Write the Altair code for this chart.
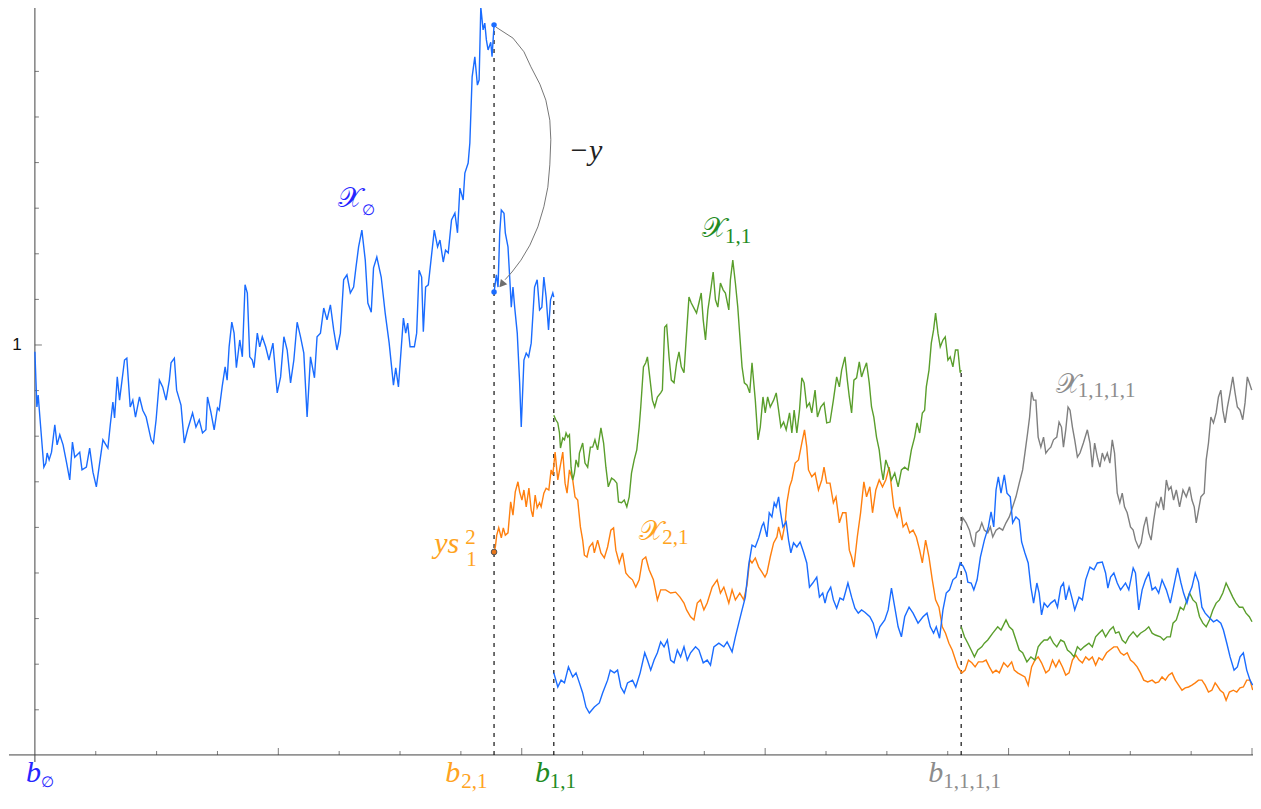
import altair as alt
import pandas as pd

# ---------------- data (time index t, value y) ----------------
BLUE_PATH_1 = [(0,0.985),(2,0.864),(3.3,0.890),(5,0.842),(9,0.732),(11,0.741),(12.3,0.763),(14.3,0.748),(16.7,0.765),(20,0.825),(22.3,0.781),(25,0.803),(28.3,0.781),(31.7,0.743),(35,0.704),(37.7,0.787),(40,0.754),(45,0.765),(47.3,0.726),(51.7,0.732),(55,0.774),(58.3,0.721),(61.7,0.689),(65,0.741),(68.3,0.792),(73.3,0.774),(75.7,0.825),(78.3,0.875),(80,0.840),(82.7,0.930),(85,0.879),(90,0.967),(92.3,0.971),(95.7,0.864),(98.3,0.879),(101,0.842),(105,0.886),(108.3,0.857),(111.7,0.842),(116.7,0.792),(119,0.785),(121.7,0.836),(125,0.923),(128.3,0.908),(131.7,0.879),(135,0.923),(136.7,0.961),(140,0.971),(142.3,0.901),(146.7,0.868),(150,0.785),(153.3,0.814),(158.3,0.851),(161.7,0.820),(165,0.836),(168.3,0.807),(171.7,0.814),(173.3,0.886),(176.7,0.853),(180,0.814),(183.3,0.862),(185,0.857),(188,0.908),(191,0.952),(193,0.923),(195,0.996),(197.7,1.050),(200,1.026),(202.3,0.950),(205.7,1.011),(208.3,0.974),(211,1.132),(213.3,1.114),(215.7,0.974),(218.3,0.967),(220,0.950),(223.3,1.026),(225.7,0.996),(228.3,1.018),(231.7,0.996),(235,0.967),(239,1.004),(243.3,0.895),(246.7,0.930),(250,1.018),(253.3,0.989),(256.7,0.917),(260,0.967),(263.3,1.050),(266.7,1.018),(270,0.982),(273.3,0.842),(276.7,0.974),(280.7,0.928),(283.3,1.018),(286.7,1.026),(290,1.081),(293.3,1.055),(296.7,1.088),(300,1.033),(303.3,0.989),(306.7,1.026),(310,1.143),(313.3,1.154),(316.7,1.114),(320,1.127),(322.3,1.169),(325,1.215),(328.3,1.252),(331.7,1.186),(334.3,1.092),(337.7,1.072),(340,1.169),(343.3,1.193),(347.7,1.149),(351.7,1.070),(355.7,1.004),(360,0.912),(362.3,0.950),(365,0.908),(370,1.059),(372.3,1.026),(374.3,1.048),(376.7,0.996),(381,0.996),(383.3,1.026),(385.7,1.164),(388.3,1.149),(390,1.029),(392.3,1.127),(395,1.132),(397.7,1.186),(401,1.252),(404.3,1.215),(406.7,1.230),(410,1.182),(412.3,1.208),(415,1.202),(418.3,1.274),(421.7,1.289),(424.3,1.246),(426.7,1.344),(430,1.318),(431.7,1.377),(435,1.399),(436.7,1.443),(439,1.588),(441.7,1.632),(444.3,1.570),(446,1.581),(447.7,1.741),(450,1.691),(451.7,1.706),(453.3,1.669),(455,1.647),(457.7,1.664),(459,1.632),(461,1.702)]

BLUE_PATH_2 = [(461,1.116),(461.7,1.127),(463.3,1.154),(465,1.127),(466.7,1.246),(468.3,1.296),(471,1.289),(472.3,1.246),(475,1.215),(476.7,1.149),(478.3,1.083),(480,1.127),(481.7,1.083),(484.3,1.026),(486.7,0.917),(488.3,0.820),(491,0.967),(493.3,0.982),(495.7,0.974),(498.3,1.004),(501.7,1.127),(504.3,1.143),(506.7,1.077),(509,1.083),(511,1.149),(513.3,1.105),(515.7,1.033),(517.7,1.099),(520,1.114),(521,1.105)]

BLUE_PATH_3 = [(521,0.281),(525,0.250),(528.3,0.265),(531.7,0.259),(535.7,0.294),(540,0.272),(543.3,0.281),(546.7,0.259),(550,0.237),(553.3,0.206),(556.7,0.193),(561.7,0.206),(566.7,0.215),(570,0.237),(575,0.265),(577.7,0.287),(581.7,0.281),(585,0.287),(588.3,0.250),(591.7,0.237),(595,0.259),(600,0.265),(603.3,0.250),(607.7,0.281),(612.3,0.325),(615,0.309),(618.3,0.287),(621.7,0.309),(625,0.325),(628.3,0.349),(631.7,0.338),(635,0.353),(638.3,0.309),(641.7,0.303),(645,0.331),(648.3,0.316),(651.7,0.338),(655,0.309),(658.3,0.325),(663.3,0.338),(666.7,0.331),(671,0.303),(675,0.309),(678.3,0.298),(681.7,0.338),(686.7,0.346),(691.7,0.338),(695,0.349),(700,0.327),(703.3,0.360),(706.7,0.390),(710,0.419),(713.3,0.447),(716.7,0.518),(720,0.561),(723.3,0.557),(726.7,0.577),(730,0.603),(731.7,0.610),(735,0.579),(737.3,0.632),(740,0.623),(742.3,0.654),(744.3,0.645),(746.7,0.667),(748.3,0.638),(751,0.601),(754.3,0.612),(756.7,0.572),(759,0.544),(761.7,0.566),(765,0.557),(768.3,0.568),(771.7,0.546),(775,0.522),(777.7,0.469),(781,0.478),(785,0.491),(787.7,0.447),(791,0.456),(793.3,0.434),(795.7,0.456),(799,0.469),(801.7,0.441),(805,0.423),(808.3,0.445),(811.7,0.441),(816.3,0.478),(820,0.447),(823.3,0.423),(826.7,0.412),(830,0.419),(833.3,0.414),(838.3,0.404),(841.7,0.390),(845,0.360),(848.3,0.382),(853.3,0.397),(856.7,0.419),(860,0.467),(863.3,0.425),(866.7,0.382),(870,0.360),(873.3,0.404),(877.7,0.425),(881.7,0.412),(886.7,0.390),(891.7,0.404),(895.7,0.412),(899,0.382),(902.3,0.368),(905,0.382),(908.3,0.357),(911.7,0.419),(915,0.456),(918.3,0.463),(921.7,0.485),(925,0.491),(929,0.522),(932,0.515),(935,0.500),(936.7,0.480),(940,0.478),(942.7,0.463),(946,0.485),(949.3,0.535),(953.3,0.572),(957.3,0.601),(960,0.634),(962.7,0.601),(965,0.682),(967.3,0.711),(970,0.675),(973.3,0.715),(976,0.675),(979.3,0.667),(981.7,0.610),(985,0.623),(988.3,0.616),(990.7,0.568),(994,0.544),(997.3,0.522),(1000,0.469),(1002.7,0.434),(1006,0.478),(1008.3,0.456),(1010.7,0.408),(1013.3,0.434),(1016.7,0.425),(1020,0.434),(1024,0.441),(1026.7,0.425),(1030,0.469),(1032.7,0.478),(1035,0.441),(1038.3,0.469),(1041.7,0.441),(1044,0.419),(1048.3,0.447),(1051.7,0.441),(1055,0.485),(1059.3,0.513),(1063.3,0.507),(1066.7,0.522),(1071.7,0.524),(1075,0.500),(1077.3,0.467),(1080,0.491),(1083.3,0.500),(1086.7,0.478),(1090,0.463),(1095,0.478),(1098.3,0.463),(1102.7,0.511),(1105,0.500),(1108.3,0.419),(1111.7,0.463),(1115,0.485),(1118.3,0.500),(1121.7,0.463),(1125,0.469),(1128.3,0.456),(1131.7,0.485),(1136,0.463),(1140,0.434),(1143.3,0.469),(1147.3,0.511),(1150.7,0.478),(1153.3,0.456),(1156.7,0.434),(1159.3,0.456),(1161.7,0.469),(1165,0.500),(1168.3,0.480),(1171.7,0.425),(1175,0.412),(1178.3,0.404),(1183.3,0.393),(1186.7,0.397),(1190.7,0.390),(1193.3,0.375),(1196.7,0.346),(1200,0.316),(1204,0.287),(1207.3,0.294),(1210,0.316),(1213.3,0.325),(1216.7,0.287),(1220,0.265),(1222.7,0.254)]

ORANGE_PATH = [(461,0.546),(462.3,0.557),(463.7,0.583),(465.7,0.599),(468.3,0.577),(470.3,0.599),(472.3,0.583),(475,0.588),(477.7,0.656),(480,0.627),(482.3,0.678),(485,0.700),(486.7,0.678),(489,0.660),(491,0.682),(493.3,0.645),(496,0.686),(498.3,0.638),(500,0.623),(502.3,0.671),(504.3,0.643),(506.7,0.654),(508.3,0.645),(511,0.675),(513.3,0.686),(516,0.682),(518.3,0.726),(520,0.715),(522.3,0.765),(525,0.704),(527.7,0.737),(530,0.765),(532.3,0.697),(534.3,0.675),(536.7,0.726),(540,0.704),(542.3,0.667),(545,0.660),(547.7,0.601),(550,0.572),(551.7,0.539),(554.3,0.535),(556.7,0.557),(560,0.566),(561.7,0.544),(565,0.572),(568.3,0.544),(571.7,0.533),(575,0.557),(578.3,0.594),(581,0.599),(583.3,0.550),(586.7,0.522),(590,0.544),(593.3,0.500),(596.7,0.491),(600,0.485),(603.3,0.469),(606.7,0.485),(610,0.529),(613.3,0.535),(616.7,0.507),(621,0.485),(625,0.441),(628.3,0.463),(633.3,0.463),(638.3,0.456),(643.3,0.458),(647.7,0.447),(651.7,0.434),(654.3,0.419),(658.3,0.404),(661.7,0.397),(665,0.434),(668.3,0.441),(671.7,0.419),(675,0.434),(680,0.469),(685,0.485),(688.3,0.456),(691.7,0.469),(696.7,0.434),(700,0.463),(703.3,0.441),(707.7,0.456),(711.7,0.441),(715,0.474),(717.7,0.529),(720,0.522),(723.3,0.533),(726.7,0.513),(730,0.502),(733,0.491),(735,0.500),(738.3,0.535),(741.7,0.566),(745,0.579),(746.7,0.601),(750,0.572),(753.3,0.610),(755,0.654),(757.7,0.689),(760,0.704),(763.3,0.741),(766.7,0.748),(770,0.785),(772.7,0.814),(775,0.776),(776.7,0.726),(780,0.711),(783.3,0.719),(786.7,0.682),(790,0.704),(792.3,0.732),(795,0.697),(798.3,0.697),(801.7,0.654),(804.3,0.667),(807.7,0.610),(811,0.632),(814.3,0.632),(817.7,0.550),(820,0.535),(822.3,0.513),(825.7,0.579),(829,0.632),(832.3,0.700),(835,0.667),(838.3,0.689),(841,0.632),(844.3,0.682),(847.7,0.704),(851,0.689),(854.3,0.704),(857.7,0.732),(860,0.689),(862.3,0.645),(865.7,0.623),(868.3,0.645),(871.7,0.601),(875,0.610),(878.3,0.588),(881.7,0.594),(885,0.579),(888.3,0.550),(891,0.522),(894.3,0.572),(897.7,0.535),(901,0.485),(904.3,0.441),(907.7,0.425),(911,0.382),(914.3,0.368),(917.7,0.346),(921,0.331),(924.3,0.309),(926.7,0.294),(930.7,0.281),(934,0.287),(937.3,0.309),(940.7,0.303),(944,0.294),(947.3,0.305),(951.7,0.305),(955,0.309),(958.3,0.294),(961.7,0.281),(965,0.287),(968.3,0.281),(972.7,0.303),(976.7,0.294),(980.7,0.305),(983.3,0.287),(986.7,0.281),(990.7,0.276),(994,0.272),(997.3,0.254),(1000.7,0.294),(1004,0.309),(1007.3,0.316),(1010.7,0.303),(1015,0.281),(1018.3,0.287),(1021.7,0.309),(1025,0.294),(1028.3,0.309),(1031.7,0.294),(1035,0.276),(1038.3,0.281),(1041.7,0.309),(1045,0.320),(1048.3,0.309),(1051.7,0.303),(1055,0.316),(1058.3,0.309),(1061.7,0.316),(1065,0.298),(1068.3,0.314),(1071.7,0.309),(1076,0.325),(1079.3,0.331),(1083.3,0.338),(1086.7,0.338),(1090,0.325),(1093.3,0.320),(1096.7,0.325),(1100,0.309),(1103.3,0.303),(1106.7,0.294),(1110,0.281),(1113.3,0.265),(1117.3,0.261),(1121.7,0.265),(1125,0.259),(1128.3,0.261),(1131.7,0.272),(1135,0.265),(1138.3,0.276),(1141.7,0.281),(1145,0.265),(1148.3,0.254),(1151.7,0.243),(1155,0.248),(1158.3,0.250),(1161.7,0.254),(1165,0.259),(1168.3,0.265),(1171.7,0.265),(1175,0.254),(1178.3,0.239),(1181.7,0.243),(1185,0.259),(1186.7,0.254),(1190,0.243),(1193.3,0.237),(1196,0.221),(1199.3,0.239),(1203.3,0.243),(1206.7,0.239),(1210,0.248),(1213.3,0.250),(1216.7,0.265),(1220,0.265),(1222.7,0.243)]

GREEN_PATH_1 = [(521,0.846),(523,0.836),(525,0.829),(526.7,0.807),(527.7,0.774),(530,0.796),(531.7,0.792),(533.3,0.807),(535,0.798),(536.7,0.803),(538.3,0.732),(540,0.704),(541.7,0.719),(543.3,0.748),(545.7,0.732),(546.7,0.763),(550,0.785),(552.3,0.741),(555,0.732),(557.7,0.776),(560,0.776),(562.3,0.792),(565,0.770),(568.3,0.818),(571,0.785),(573.3,0.732),(575.7,0.689),(579,0.708),(581.7,0.704),(584.3,0.697),(586,0.656),(589,0.654),(591.7,0.660),(594.3,0.645),(596.7,0.667),(599,0.719),(601.7,0.748),(604.3,0.770),(606.7,0.820),(608.3,0.864),(611,0.952),(613.3,0.961),(615,0.974),(617.7,0.923),(620,0.879),(622.3,0.864),(625,0.886),(628.3,0.895),(630,0.901),(632.3,1.039),(634.3,1.044),(636.7,0.974),(639,0.923),(641.7,0.917),(644.3,0.961),(646.7,0.985),(649,0.952),(651.7,0.939),(654.3,1.026),(656.7,1.105),(659,1.092),(661.7,1.081),(664.3,1.070),(666.7,1.092),(669,1.114),(671,1.055),(673.3,1.011),(675.7,1.077),(678.3,1.116),(681,1.160),(683.3,1.099),(685.7,1.083),(688.3,1.136),(691,1.121),(693.3,1.114),(696.7,1.077),(698.3,1.143),(700.7,1.186),(703.3,1.136),(705.7,1.083),(707.7,1.022),(710,0.952),(712.3,0.917),(715,0.912),(717.7,0.895),(720,0.961),(723.3,0.879),(726,0.792),(728.3,0.820),(731,0.886),(733.3,0.851),(735.7,0.886),(738.3,0.864),(741.7,0.879),(744.3,0.895),(746.7,0.857),(749,0.820),(751.7,0.831),(754.3,0.814),(757.7,0.851),(760,0.807),(762.3,0.857),(765,0.807),(767.7,0.857),(770,0.928),(772.3,0.917),(775,0.864),(777.7,0.873),(780,0.851),(783.3,0.901),(785.7,0.842),(789,0.864),(792.3,0.873),(795,0.829),(798.3,0.831),(801.7,0.879),(805,0.930),(807.7,0.908),(810,0.945),(813.3,0.974),(815.7,0.923),(817.7,0.886),(820,0.851),(822.3,0.923),(825,0.928),(827.7,0.963),(830,0.930),(832.3,0.945),(835,0.961),(837.7,0.917),(840,0.864),(842.3,0.842),(845,0.798),(847.7,0.770),(850,0.726),(851.7,0.704),(854.3,0.748),(857.7,0.726),(860,0.704),(863.3,0.719),(866.7,0.689),(870,0.726),(873.3,0.732),(876.7,0.726),(880,0.770),(883.3,0.798),(885.7,0.829),(888.3,0.807),(891,0.851),(893.3,0.857),(895,0.908),(897.7,0.945),(900,1.004),(902.3,1.033),(904.3,1.070),(906.7,1.026),(909,0.996),(911.7,1.011),(914,1.018),(916.7,0.967),(919,0.974),(921.7,0.952),(924.3,0.989),(926.7,0.989),(929,0.939),(930,0.945)]

GREEN_PATH_2 = [(930,0.382),(933.3,0.360),(936.7,0.346),(940,0.331),(943.3,0.316),(946.7,0.331),(950.7,0.338),(953.3,0.346),(956.7,0.353),(961.7,0.368),(966.7,0.382),(970,0.375),(975,0.397),(978.3,0.382),(981.7,0.375),(985,0.353),(988.3,0.331),(991.7,0.325),(996,0.305),(1000,0.316),(1004,0.309),(1007.3,0.338),(1010,0.346),(1013.3,0.353),(1016.7,0.353),(1019.3,0.360),(1022.7,0.346),(1026,0.338),(1030,0.353),(1033.3,0.349),(1036.7,0.331),(1040,0.325),(1043.3,0.316),(1046.7,0.338),(1050,0.331),(1053.3,0.338),(1058.3,0.346),(1061.7,0.338),(1065,0.360),(1068.3,0.368),(1071.7,0.375),(1075,0.360),(1079.3,0.375),(1082.7,0.382),(1085,0.368),(1088.3,0.371),(1091.7,0.353),(1095,0.346),(1098.3,0.360),(1102.7,0.371),(1106.7,0.360),(1110,0.368),(1115,0.375),(1118.3,0.382),(1121.7,0.368),(1125,0.364),(1130,0.360),(1133.3,0.353),(1136.7,0.360),(1140,0.360),(1142.7,0.390),(1146,0.397),(1150,0.425),(1153.3,0.419),(1156.7,0.441),(1159.3,0.456),(1162.7,0.441),(1166,0.434),(1169.3,0.404),(1172.7,0.390),(1176,0.382),(1179.3,0.397),(1182.7,0.419),(1186,0.434),(1189.3,0.441),(1192.7,0.456),(1196,0.478),(1199.3,0.463),(1202.7,0.447),(1206,0.434),(1209.3,0.425),(1212.7,0.425),(1216,0.412),(1219.3,0.404),(1222,0.393)]

GRAY_PATH = [(930,0.601),(931.7,0.621),(935,0.610),(938.3,0.594),(940.7,0.572),(943.3,0.557),(945,0.588),(948.3,0.594),(950.7,0.610),(953.3,0.594),(956.7,0.588),(959.3,0.601),(961.7,0.579),(965,0.594),(968.3,0.599),(971.7,0.594),(975,0.610),(978.3,0.623),(981.7,0.645),(985,0.667),(988.3,0.697),(991.7,0.726),(994,0.763),(996.7,0.807),(998.7,0.842),(1000.7,0.897),(1002.7,0.879),(1005,0.879),(1007.3,0.798),(1010,0.776),(1012.7,0.798),(1015,0.763),(1017.3,0.770),(1020,0.776),(1022.7,0.792),(1026,0.798),(1028.3,0.831),(1030.7,0.820),(1032.7,0.776),(1035,0.814),(1037.3,0.864),(1039.3,0.857),(1041.7,0.820),(1044,0.792),(1046.7,0.754),(1049.3,0.763),(1052.7,0.785),(1056.7,0.814),(1059.3,0.785),(1061.7,0.732),(1064,0.785),(1066.7,0.754),(1069.3,0.732),(1071.7,0.763),(1074,0.748),(1076.7,0.763),(1079.3,0.741),(1081.7,0.792),(1084,0.763),(1086.7,0.675),(1089.3,0.654),(1091.7,0.675),(1094,0.645),(1096.7,0.632),(1100,0.601),(1102.7,0.594),(1105,0.572),(1108.3,0.555),(1110.7,0.566),(1113.3,0.601),(1116,0.623),(1118.3,0.588),(1120.7,0.572),(1123.3,0.616),(1126,0.654),(1128.3,0.645),(1130.7,0.667),(1133.3,0.638),(1136,0.704),(1138.3,0.682),(1140.7,0.689),(1143.3,0.660),(1146,0.682),(1149.3,0.645),(1152.7,0.682),(1156,0.667),(1159.3,0.689),(1161.7,0.660),(1164,0.645),(1166,0.610),(1168.3,0.638),(1170.7,0.667),(1174,0.675),(1176,0.748),(1178.3,0.785),(1180.7,0.842),(1183.3,0.829),(1186,0.851),(1188.3,0.886),(1190.7,0.901),(1192.7,0.857),(1195,0.829),(1197.3,0.864),(1200,0.895),(1202.7,0.930),(1205,0.895),(1207.3,0.864),(1210,0.857),(1212.7,0.836),(1215,0.873),(1217.3,0.930),(1219.3,0.917),(1221.7,0.901)]

# "-y" arrow path (annotation)
ARROW_ARC = [(463,1.697),(480,1.673),(491,1.643),(498,1.610),(507,1.572),(513,1.537),(517,1.493),(518,1.450),(517,1.395),(515,1.346),(511,1.303),(505,1.259),(497,1.219),(488,1.186),(479,1.160),(472,1.143)]
ARROW_HEAD = [(469.5, 1.135)]

# branch times (dashed verticals): t, top of dashed line
BRANCH_T = [461, 521, 930]
BRANCH_TOP = [1.691, 1.105, 0.945]
AXIS_Y = 0.101

BLUE_DOTS = [(461, 1.702), (461, 1.116)]
ORANGE_DOT = [(461, 0.546)]

Y_MINOR_TICKS = [0.2, 0.3, 0.4, 0.5, 0.6, 0.7, 0.8, 0.9, 1.1, 1.2, 1.3, 1.4, 1.5, 1.6]
Y_MAJOR_TICKS = [1.0]
Y_TICK_LABELS = ["1"]
X_MINOR_TICKS = [61.1, 122.2, 183.3, 305.5, 366.6, 427.7, 549.9, 611.0, 672.1, 794.3, 855.4, 916.5, 1038.7, 1099.8, 1160.9]
X_MAJOR_TICKS = [244.4, 488.8, 733.2, 977.6, 1222.0]

BLUE_T = "#2626ff"
GREEN_T = "#228b22"
ORANGE_T = "#ffa320"
GRAY_T = "#8c8c8c"

# labels: (text, t, y, color)
SCRIPT_LABELS = [("𝒳", 304, 1.303, BLUE_T), ("𝒳", 670, 1.237, GREEN_T),
                 ("𝒳", 607, 0.572, ORANGE_T), ("𝒳", 1025, 0.895, GRAY_T)]
ITALIC_LABELS = [("b", -9, 0.041, BLUE_T), ("b", 412, 0.041, ORANGE_T),
                 ("b", 502, 0.041, GREEN_T), ("b", 897, 0.041, GRAY_T),
                 ("ys", 401, 0.544, ORANGE_T), ("−y", 536, 1.406, "#222222")]
SUB_LABELS = [("1,1", 693, 1.224, GREEN_T),
              ("2,1", 630, 0.564, ORANGE_T), ("1,1,1,1", 1047, 0.886, GRAY_T),
              ("2,1", 428, 0.029, ORANGE_T),
              ("1,1", 517, 0.029, GREEN_T), ("1,1,1,1", 912, 0.029, GRAY_T),
              ("1", 433, 0.516, ORANGE_T), ("2", 432, 0.564, ORANGE_T)]
EMPTYSET_LABELS = [("∅", 328, 1.285, BLUE_T), ("∅", 6, 0.030, BLUE_T)]

# ---------------- build ----------------
XS = alt.Scale(domain=[-27, 1223], nice=False, zero=False)
YS = alt.Scale(domain=[0.0855, 1.739], nice=False, zero=False)


def pts(points, seg=""):
    return pd.DataFrame({"t": [p[0] for p in points], "y": [p[1] for p in points], "seg": seg})


def X(f="t"):
    return alt.X(f"{f}:Q", scale=XS, axis=None)


def Y(f="y"):
    return alt.Y(f"{f}:Q", scale=YS, axis=None)


def path_layer(df, color, width=1.4):
    return alt.Chart(df).mark_line(color=color, strokeWidth=width).encode(
        x=X(), y=Y(), detail="seg:N", order="t:Q")


def labels(rows):
    return pd.DataFrame({"text": [r[0] for r in rows], "t": [r[1] for r in rows],
                         "y": [r[2] for r in rows], "col": [r[3] for r in rows]})


axis_x = alt.Chart(pd.DataFrame({"t": [-26], "t2": [1223], "y": [AXIS_Y]})).mark_rule(
    color="#444444", strokeWidth=1).encode(x=X(), x2="t2:Q", y=Y())
axis_y = alt.Chart(pd.DataFrame({"t": [0], "y": [0.0855], "y2": [1.739]})).mark_rule(
    color="#444444", strokeWidth=1).encode(x=X(), y=Y(), y2="y2:Q")

ytick_minor = alt.Chart(pd.DataFrame({"t": 0, "y": Y_MINOR_TICKS})).mark_tick(
    orient="horizontal", size=4, thickness=1, color="#444444", xOffset=2).encode(x=X(), y=Y())
ytick_major = alt.Chart(pd.DataFrame({"t": 0, "y": Y_MAJOR_TICKS})).mark_tick(
    orient="horizontal", size=7, thickness=1, color="#444444", xOffset=3.5).encode(x=X(), y=Y())
xtick_minor = alt.Chart(pd.DataFrame({"t": X_MINOR_TICKS, "y": AXIS_Y})).mark_tick(
    orient="vertical", size=4, thickness=1, color="#444444", yOffset=-2).encode(x=X(), y=Y())
xtick_major = alt.Chart(pd.DataFrame({"t": X_MAJOR_TICKS, "y": AXIS_Y})).mark_tick(
    orient="vertical", size=7, thickness=1, color="#444444", yOffset=-3.5).encode(x=X(), y=Y())
ylabel = alt.Chart(pd.DataFrame({"t": -18, "y": Y_MAJOR_TICKS, "text": Y_TICK_LABELS})).mark_text(
    font="Liberation Sans", fontSize=17, color="#111111", align="center", baseline="middle").encode(
    x=X(), y=Y(), text="text:N")

dashes = alt.Chart(pd.DataFrame({"t": BRANCH_T, "y": AXIS_Y, "y2": BRANCH_TOP})).mark_rule(
    color="#111111", strokeWidth=1.2, strokeDash=[4, 5]).encode(x=X(), y=Y(), y2="y2:Q")

blue = path_layer(pd.concat([pts(BLUE_PATH_1, "b1"), pts(BLUE_PATH_2, "b2"), pts(BLUE_PATH_3, "b3")]), "#1a6cff")
orange = path_layer(pts(ORANGE_PATH, "o"), "#ff7f0e")
green = path_layer(pd.concat([pts(GREEN_PATH_1, "g1"), pts(GREEN_PATH_2, "g2")]), "#5a9e2c")
gray = path_layer(pts(GRAY_PATH, "k"), "#7f7f7f")

arc = alt.Chart(pts(ARROW_ARC, "a")).mark_line(color="#777777", strokeWidth=1).encode(
    x=X(), y=Y(), order=alt.Order("idx:Q")).transform_window(idx="row_number()")
head = alt.Chart(pts(ARROW_HEAD)).mark_point(shape="triangle", filled=True, size=70, angle=220,
                                              color="#6e6e6e", opacity=1).encode(x=X(), y=Y())

bdots = alt.Chart(pts(BLUE_DOTS)).mark_circle(size=30, color="#1a6cff", opacity=1).encode(x=X(), y=Y())
odot = alt.Chart(pts(ORANGE_DOT)).mark_point(size=32, filled=True, fill="#e8761a", stroke="#555555",
                                              strokeWidth=1, opacity=1).encode(x=X(), y=Y())

script_txt = alt.Chart(labels(SCRIPT_LABELS)).mark_text(
    font="DejaVu Serif", fontSize=28, align="left", baseline="alphabetic").encode(
    x=X(), y=Y(), text="text:N", color=alt.Color("col:N", scale=None))
italic_txt = alt.Chart(labels(ITALIC_LABELS)).mark_text(
    font="Liberation Serif", fontStyle="italic", fontSize=30, align="left", baseline="alphabetic").encode(
    x=X(), y=Y(), text="text:N", color=alt.Color("col:N", scale=None))
sub_txt = alt.Chart(labels(SUB_LABELS)).mark_text(
    font="Liberation Serif, DejaVu Serif", fontSize=21, align="left", baseline="alphabetic").encode(
    x=X(), y=Y(), text="text:N", color=alt.Color("col:N", scale=None))
empty_txt = alt.Chart(labels(EMPTYSET_LABELS)).mark_text(
    font="DejaVu Serif", fontSize=15, align="left", baseline="alphabetic").encode(
    x=X(), y=Y(), text="text:N", color=alt.Color("col:N", scale=None))

chart = alt.layer(
    axis_x, axis_y, ytick_minor, ytick_major, xtick_minor, xtick_major, ylabel,
    dashes, orange, green, gray, blue, arc, head, bdots, odot,
    script_txt, italic_txt, sub_txt, empty_txt,
).properties(
    width=1245, height=754,
    autosize=alt.AutoSizeParams(type="none"),
    padding={"left": 0, "top": 0, "right": 0, "bottom": 33},
    background="white",
).configure_view(strokeWidth=0)

chart.save("out.html", embed_options={"renderer": "svg", "actions": False})
